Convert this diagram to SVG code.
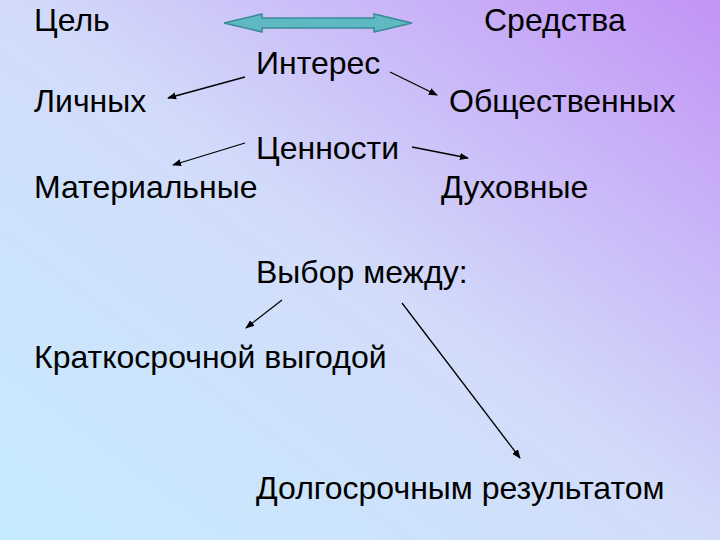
<svg xmlns="http://www.w3.org/2000/svg" width="720" height="540" viewBox="0 0 720 540">
<defs>
<linearGradient id="bg" x1="0" y1="1" x2="1" y2="0">
<stop offset="0" stop-color="#c6ecff"/>
<stop offset="0.5" stop-color="#d2dcfa"/>
<stop offset="1" stop-color="#c293f6"/>
</linearGradient>
<marker id="ah" viewBox="0 0 10 10" refX="9" refY="5" markerWidth="9" markerHeight="9" orient="auto" markerUnits="userSpaceOnUse">
<path d="M0,1 L10,5 L0,9 z" fill="#000"/>
</marker>
<style>
text{font-family:"Liberation Sans",Arial,sans-serif;font-size:32px;fill:#000}
.c line{stroke:#000;stroke-width:1.3;marker-end:url(#ah)}
</style>
</defs>
<rect width="720" height="540" fill="url(#bg)"/>
<g id="goal"><text x="34" y="31">Цель</text></g>
<g id="means"><text x="484" y="31">Средства</text></g>
<g id="interest"><text x="256" y="74">Интерес</text></g>
<g id="personal"><text x="34" y="112">Личных</text></g>
<g id="public"><text x="449" y="112">Общественных</text></g>
<g id="values"><text x="256" y="159">Ценности</text></g>
<g id="material"><text x="34" y="198">Материальные</text></g>
<g id="spiritual"><text x="441" y="198">Духовные</text></g>
<g id="choice"><text x="256" y="283">Выбор между:</text></g>
<g id="short"><text x="34" y="368">Краткосрочной выгодой</text></g>
<g id="long"><text x="256" y="499">Долгосрочным результатом</text></g>
<g id="connectors" class="c">
<path d="M224,23 L262,14 L262,18 L374,18 L374,14 L412,23 L374,32 L374,28 L262,28 L262,32 z" fill="#5fb9c2" stroke="#3a8a96" stroke-width="1.5"/>
<line x1="245" y1="77" x2="168" y2="98"/>
<line x1="390" y1="72" x2="437" y2="95"/>
<line x1="245" y1="143" x2="173" y2="165"/>
<line x1="412" y1="147" x2="468" y2="158"/>
<line x1="282" y1="300" x2="246" y2="328"/>
<line x1="402" y1="303" x2="520" y2="458"/>
</g>
</svg>
